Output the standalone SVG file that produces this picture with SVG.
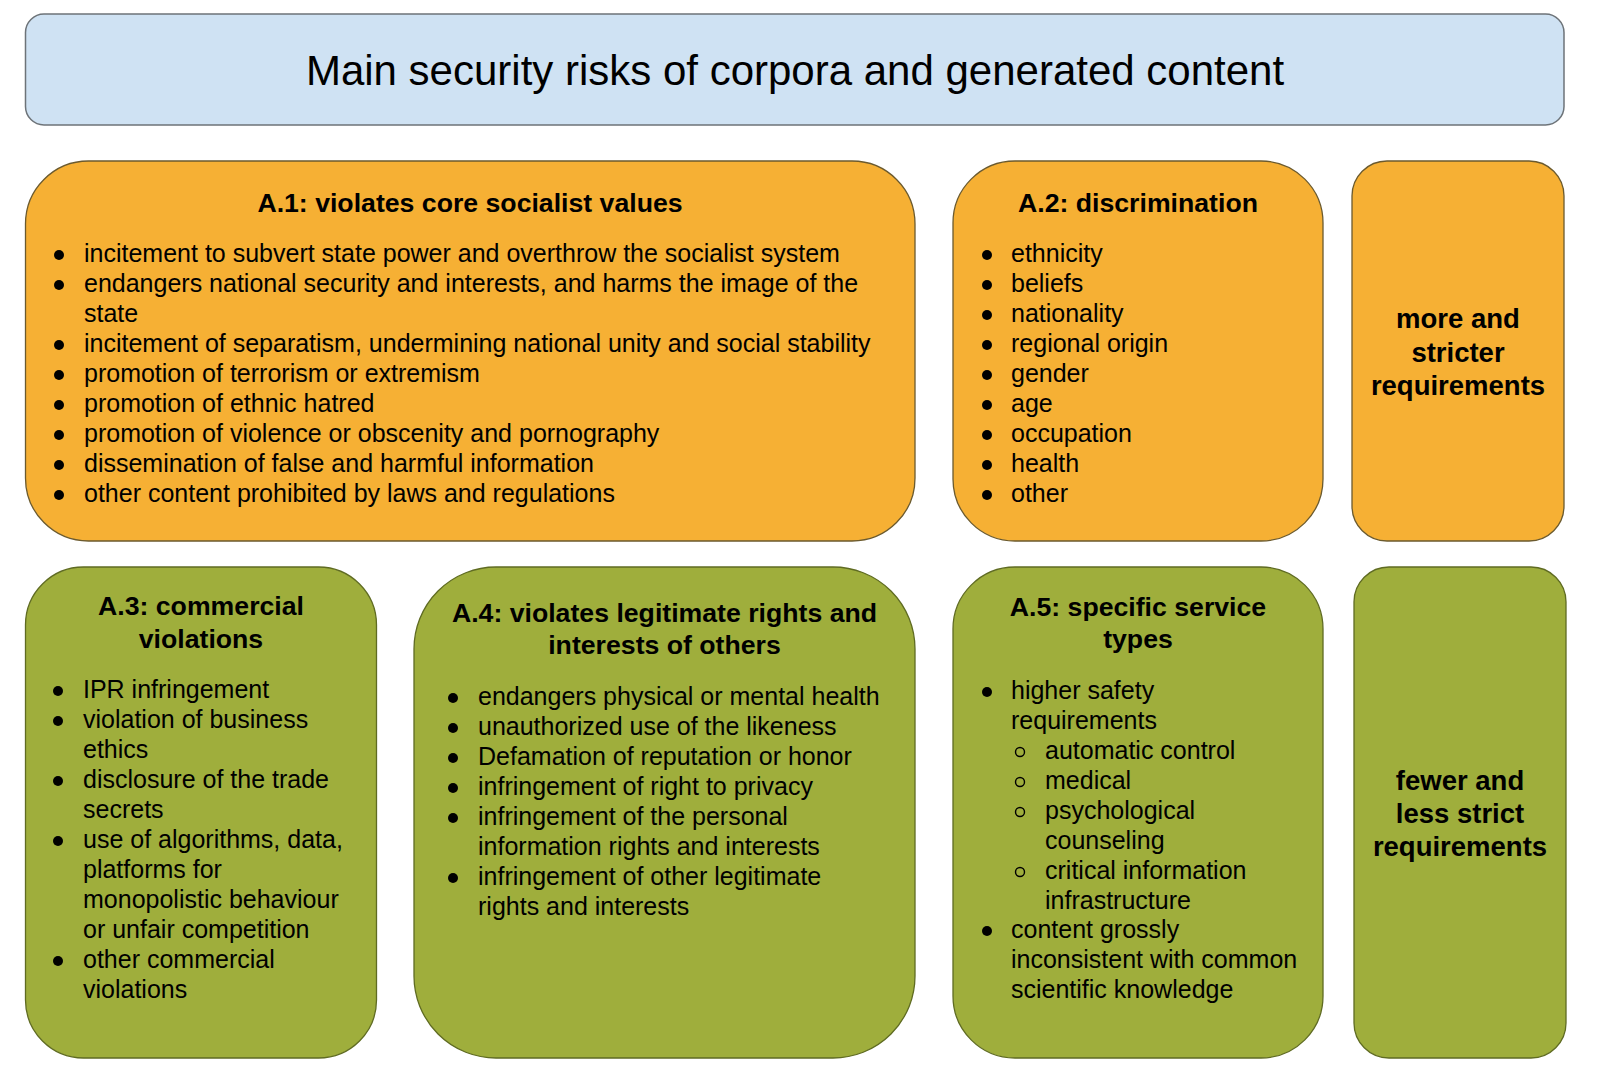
<svg xmlns="http://www.w3.org/2000/svg" width="1600" height="1073" viewBox="0 0 1600 1073">
<style>
text { font-family: "Liberation Sans", Arial, sans-serif; fill: #000; }
.title { font-size: 42px; text-anchor: middle; }
.h { font-size: 26.67px; font-weight: bold; text-anchor: middle; }
.req { font-size: 27.5px; font-weight: bold; text-anchor: middle; }
.b { font-size: 25px; }
.blue { fill: #cfe2f3; stroke: #6d7378; stroke-width: 1.5; }
.orange { fill: #f6b034; stroke: #6b5a2e; stroke-width: 1.3; }
.green { fill: #9fae3c; stroke: #5f6b22; stroke-width: 1.3; }
.dot { fill: #000; }
.ring { fill: none; stroke: #000; stroke-width: 1.4; }
</style>
<rect width="1600" height="1073" fill="#ffffff"/>

<g id="title">
  <rect class="blue" x="25.5" y="14" width="1538.5" height="111" rx="18.5"/>
  <text class="title" x="795" y="85">Main security risks of corpora and generated content</text>
</g>

<g id="a1">
  <rect class="orange" x="25.5" y="161" width="889.5" height="380" rx="63"/>
  <text class="h" x="470" y="212">A.1: violates core socialist values</text>
  <g class="dot">
    <circle cx="59" cy="255" r="5"/><circle cx="59" cy="285" r="5"/>
    <circle cx="59" cy="345" r="5"/><circle cx="59" cy="375" r="5"/>
    <circle cx="59" cy="405" r="5"/><circle cx="59" cy="435" r="5"/>
    <circle cx="59" cy="465" r="5"/><circle cx="59" cy="495" r="5"/>
  </g>
  <text class="b" x="84" y="262">incitement to subvert state power and overthrow the socialist system</text>
  <text class="b" x="84" y="292">endangers national security and interests, and harms the image of the</text>
  <text class="b" x="84" y="322">state</text>
  <text class="b" x="84" y="352">incitement of separatism, undermining national unity and social stability</text>
  <text class="b" x="84" y="382">promotion of terrorism or extremism</text>
  <text class="b" x="84" y="412">promotion of ethnic hatred</text>
  <text class="b" x="84" y="442">promotion of violence or obscenity and pornography</text>
  <text class="b" x="84" y="472">dissemination of false and harmful information</text>
  <text class="b" x="84" y="502">other content prohibited by laws and regulations</text>
</g>

<g id="a2">
  <rect class="orange" x="953" y="161" width="370" height="380" rx="62"/>
  <text class="h" x="1138" y="212">A.2: discrimination</text>
  <g class="dot">
    <circle cx="987" cy="255" r="5"/><circle cx="987" cy="285" r="5"/>
    <circle cx="987" cy="315" r="5"/><circle cx="987" cy="345" r="5"/>
    <circle cx="987" cy="375" r="5"/><circle cx="987" cy="405" r="5"/>
    <circle cx="987" cy="435" r="5"/><circle cx="987" cy="465" r="5"/>
    <circle cx="987" cy="495" r="5"/>
  </g>
  <text class="b" x="1011" y="262">ethnicity</text>
  <text class="b" x="1011" y="292">beliefs</text>
  <text class="b" x="1011" y="322">nationality</text>
  <text class="b" x="1011" y="352">regional origin</text>
  <text class="b" x="1011" y="382">gender</text>
  <text class="b" x="1011" y="412">age</text>
  <text class="b" x="1011" y="442">occupation</text>
  <text class="b" x="1011" y="472">health</text>
  <text class="b" x="1011" y="502">other</text>
</g>

<g id="more-stricter">
  <rect class="orange" x="1352" y="161" width="212" height="380" rx="35"/>
  <text class="req" x="1458" y="328">more and</text>
  <text class="req" x="1458" y="361.5">stricter</text>
  <text class="req" x="1458" y="395">requirements</text>
</g>

<g id="a3">
  <rect class="green" x="25.5" y="567" width="351" height="491" rx="58"/>
  <text class="h" x="201" y="615">A.3: commercial</text>
  <text class="h" x="201" y="648">violations</text>
  <g class="dot">
    <circle cx="58" cy="691" r="5"/><circle cx="58" cy="721" r="5"/>
    <circle cx="58" cy="781" r="5"/><circle cx="58" cy="841" r="5"/>
    <circle cx="58" cy="961" r="5"/>
  </g>
  <text class="b" x="83" y="698">IPR infringement</text>
  <text class="b" x="83" y="728">violation of business</text>
  <text class="b" x="83" y="758">ethics</text>
  <text class="b" x="83" y="788">disclosure of the trade</text>
  <text class="b" x="83" y="818">secrets</text>
  <text class="b" x="83" y="848">use of algorithms, data,</text>
  <text class="b" x="83" y="878">platforms for</text>
  <text class="b" x="83" y="908">monopolistic behaviour</text>
  <text class="b" x="83" y="938">or unfair competition</text>
  <text class="b" x="83" y="968">other commercial</text>
  <text class="b" x="83" y="998">violations</text>
</g>

<g id="a4">
  <rect class="green" x="414" y="567" width="501" height="491" rx="82"/>
  <text class="h" x="664.5" y="622">A.4: violates legitimate rights and</text>
  <text class="h" x="664.5" y="654">interests of others</text>
  <g class="dot">
    <circle cx="453" cy="698" r="5"/><circle cx="453" cy="728" r="5"/>
    <circle cx="453" cy="758" r="5"/><circle cx="453" cy="788" r="5"/>
    <circle cx="453" cy="818" r="5"/><circle cx="453" cy="878" r="5"/>
  </g>
  <text class="b" x="478" y="705">endangers physical or mental health</text>
  <text class="b" x="478" y="735">unauthorized use of the likeness</text>
  <text class="b" x="478" y="765">Defamation of reputation or honor</text>
  <text class="b" x="478" y="795">infringement of right to privacy</text>
  <text class="b" x="478" y="825">infringement of the personal</text>
  <text class="b" x="478" y="855">information rights and interests</text>
  <text class="b" x="478" y="885">infringement of other legitimate</text>
  <text class="b" x="478" y="915">rights and interests</text>
</g>

<g id="a5">
  <rect class="green" x="953" y="567" width="370" height="491" rx="62"/>
  <text class="h" x="1138" y="616">A.5: specific service</text>
  <text class="h" x="1138" y="648">types</text>
  <g class="dot">
    <circle cx="987" cy="692" r="5"/><circle cx="987" cy="931" r="5"/>
  </g>
  <g class="ring">
    <circle cx="1020" cy="752" r="4.5"/><circle cx="1020" cy="782" r="4.5"/>
    <circle cx="1020" cy="812" r="4.5"/><circle cx="1020" cy="872" r="4.5"/>
  </g>
  <text class="b" x="1011" y="699">higher safety</text>
  <text class="b" x="1011" y="729">requirements</text>
  <text class="b" x="1045" y="759">automatic control</text>
  <text class="b" x="1045" y="789">medical</text>
  <text class="b" x="1045" y="819">psychological</text>
  <text class="b" x="1045" y="849">counseling</text>
  <text class="b" x="1045" y="879">critical information</text>
  <text class="b" x="1045" y="909">infrastructure</text>
  <text class="b" x="1011" y="938">content grossly</text>
  <text class="b" x="1011" y="968">inconsistent with common</text>
  <text class="b" x="1011" y="998">scientific knowledge</text>
</g>

<g id="fewer-less-strict">
  <rect class="green" x="1354" y="567" width="212" height="491" rx="35"/>
  <text class="req" x="1460" y="790">fewer and</text>
  <text class="req" x="1460" y="823">less strict</text>
  <text class="req" x="1460" y="856">requirements</text>
</g>

<g id="connectors"></g>
</svg>
